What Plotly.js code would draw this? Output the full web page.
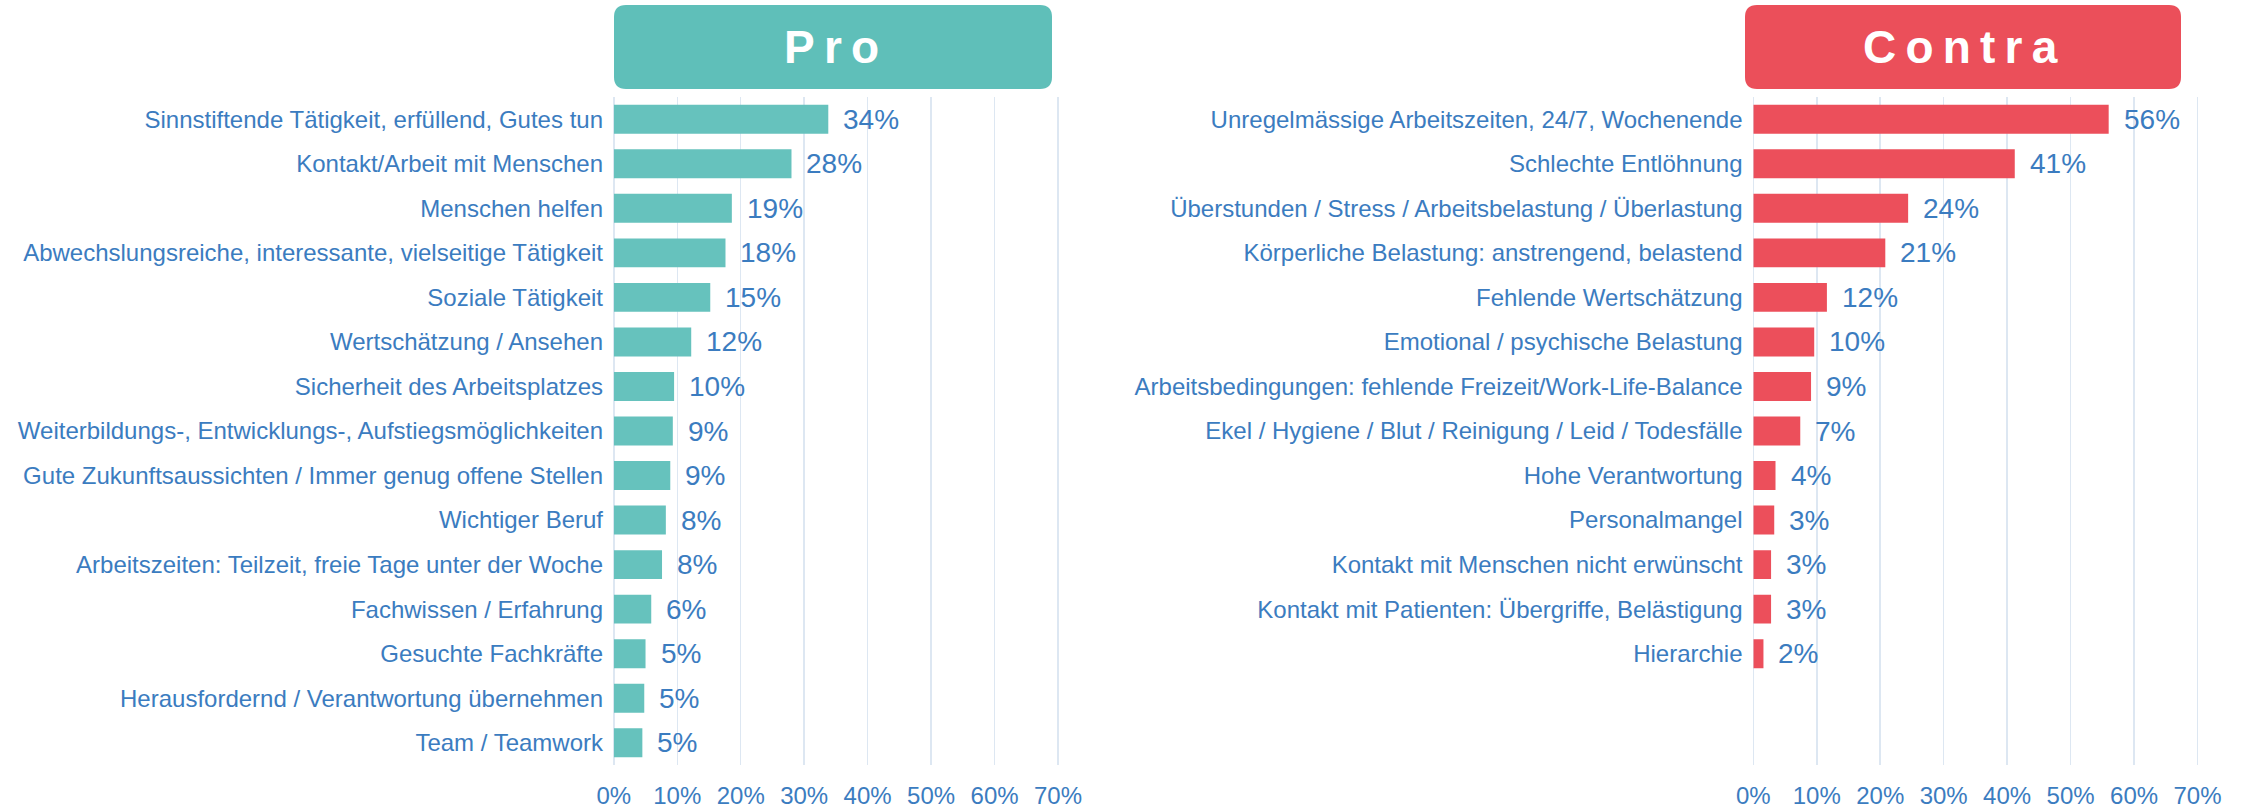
<!DOCTYPE html>
<html>
<head>
<meta charset="utf-8">
<script src="https://cdn.plot.ly/plotly-3.0.1.min.js"></script>
<style>html,body{margin:0;padding:0;background:#fff;}#chart{width:2251px;height:809px;}</style>
</head>
<body>
<div id="chart"></div>
<script>
// ---- data ----
const proCategories = [
  "Sinnstiftende Tätigkeit, erfüllend, Gutes tun",
  "Kontakt/Arbeit mit Menschen",
  "Menschen helfen",
  "Abwechslungsreiche, interessante, vielseitige Tätigkeit",
  "Soziale Tätigkeit",
  "Wertschätzung / Ansehen",
  "Sicherheit des Arbeitsplatzes",
  "Weiterbildungs-, Entwicklungs-, Aufstiegsmöglichkeiten",
  "Gute Zukunftsaussichten / Immer genug offene Stellen",
  "Wichtiger Beruf",
  "Arbeitszeiten: Teilzeit, freie Tage unter der Woche",
  "Fachwissen / Erfahrung",
  "Gesuchte Fachkräfte",
  "Herausfordernd / Verantwortung übernehmen",
  "Team / Teamwork"
];
const proValues = [33.8, 28.0, 18.6, 17.6, 15.2, 12.2, 9.5, 9.3, 8.9, 8.2, 7.6, 5.9, 5.0, 4.8, 4.5];

const contraCategories = [
  "Unregelmässige Arbeitszeiten, 24/7, Wochenende",
  "Schlechte Entlöhnung",
  "Überstunden / Stress / Arbeitsbelastung / Überlastung",
  "Körperliche Belastung: anstrengend, belastend",
  "Fehlende Wertschätzung",
  "Emotional / psychische Belastung",
  "Arbeitsbedingungen: fehlende Freizeit/Work-Life-Balance",
  "Ekel / Hygiene / Blut / Reinigung / Leid / Todesfälle",
  "Hohe Verantwortung",
  "Personalmangel",
  "Kontakt mit Menschen nicht erwünscht",
  "Kontakt mit Patienten: Übergriffe, Belästigung",
  "Hierarchie"
];
const contraValues = [56.0, 41.2, 24.4, 20.8, 11.6, 9.6, 9.1, 7.4, 3.5, 3.3, 2.8, 2.8, 1.6];

const xTickValues = [0, 10, 20, 30, 40, 50, 60, 70];
const xTickLabels = ["0%", "10%", "20%", "30%", "40%", "50%", "60%", "70%"];
const panelTitles = ["Pro", "Contra"];

// ---- styles ----
const W = 2251, H = 809;
const textBlue = "#3b7cc0";
const proColor = "#66c2bd", proBox = "#5fbfb9";
const contraColor = "#ec4f5b", contraBox = "#eb4f5a";
const gridColor = "#dde7f2";
const FONT = "Liberation Sans, Arial, sans-serif";
const XMAX = 70.5;

const px = v => v / W;
const py = v => 1 - v / H;

const traces = [
  {type: "bar", orientation: "h", x: proValues, y: proCategories, xaxis: "x", yaxis: "y",
   marker: {color: proColor, line: {width: 0}}, hoverinfo: "skip"},
  {type: "bar", orientation: "h", x: contraValues, y: contraCategories, xaxis: "x2", yaxis: "y2",
   marker: {color: contraColor, line: {width: 0}}, hoverinfo: "skip"}
];

function xAxis(domain, anchor) {
  return {domain: domain, anchor: anchor, range: [0, XMAX], tickvals: xTickValues, ticktext: xTickLabels,
    showgrid: true, gridcolor: gridColor, gridwidth: 1.5, zeroline: true, zerolinecolor: gridColor, zerolinewidth: 1.5,
    showline: false, ticks: "outside", ticklen: 9, tickcolor: "rgba(0,0,0,0)",
    tickfont: {family: FONT, size: 24, color: textBlue}, fixedrange: true};
}
function yAxis(cats, anchor) {
  return {anchor: anchor, domain: [1 - 765 / H, 1 - 97 / H], type: "category", categoryorder: "array", categoryarray: cats,
    range: [14.5, -0.5], showgrid: false, zeroline: false, showline: false,
    ticks: "outside", ticklen: 5, tickcolor: "rgba(0,0,0,0)",
    tickfont: {family: FONT, size: 24, color: textBlue}, fixedrange: true};
}

function roundedBox(x0, y0, x1, y1, r, color) {
  const X0 = px(x0), X1 = px(x1), Y0 = py(y0), Y1 = py(y1);
  const rx = r / W, ry = r / H;
  const path = `M ${X0 + rx} ${Y0} L ${X1 - rx} ${Y0} Q ${X1} ${Y0} ${X1} ${Y0 - ry} ` +
    `L ${X1} ${Y1 + ry} Q ${X1} ${Y1} ${X1 - rx} ${Y1} L ${X0 + rx} ${Y1} Q ${X0} ${Y1} ${X0} ${Y1 + ry} ` +
    `L ${X0} ${Y0 - ry} Q ${X0} ${Y0} ${X0 + rx} ${Y0} Z`;
  return {type: "path", xref: "paper", yref: "paper", path: path, fillcolor: color, line: {width: 0}, layer: "above"};
}

const annotations = [];
proValues.forEach((v, i) => annotations.push({x: v, y: proCategories[i], xref: "x", yref: "y",
  text: Math.round(v) + "%", showarrow: false, xanchor: "left", yanchor: "middle", xshift: 13,
  font: {family: FONT, size: 28, color: textBlue}}));
contraValues.forEach((v, i) => annotations.push({x: v, y: contraCategories[i], xref: "x2", yref: "y2",
  text: Math.round(v) + "%", showarrow: false, xanchor: "left", yanchor: "middle", xshift: 13,
  font: {family: FONT, size: 28, color: textBlue}}));

const spaced = s => s.split("").join("\u2009");
annotations.push({xref: "paper", yref: "paper", x: px(831), y: py(47), text: "<b>" + spaced(panelTitles[0]) + "</b>",
  showarrow: false, xanchor: "center", yanchor: "middle", font: {family: FONT, size: 46, color: "#ffffff"}});
annotations.push({xref: "paper", yref: "paper", x: px(1960), y: py(47), text: "<b>" + spaced(panelTitles[1]) + "</b>",
  showarrow: false, xanchor: "center", yanchor: "middle", font: {family: FONT, size: 46, color: "#ffffff"}});

const scale = 6.346; // px per percent
const layout = {
  width: W, height: H, margin: {l: 0, r: 0, t: 0, b: 0, pad: 0},
  paper_bgcolor: "#ffffff", plot_bgcolor: "#ffffff", showlegend: false, bargap: 0.35,
  xaxis: xAxis([613.8 / W, (613.8 + XMAX * scale) / W], "y"),
  yaxis: yAxis(proCategories, "x"),
  xaxis2: xAxis([1753.3 / W, (1753.3 + XMAX * scale) / W], "y2"),
  yaxis2: yAxis(contraCategories, "x2"),
  shapes: [roundedBox(614, 5, 1052, 89, 12, proBox), roundedBox(1745, 5, 2181, 89, 12, contraBox)],
  annotations: annotations,
  font: {family: FONT, color: textBlue}
};

Plotly.newPlot("chart", traces, layout, {staticPlot: true, displayModeBar: false});
</script>
</body>
</html>
